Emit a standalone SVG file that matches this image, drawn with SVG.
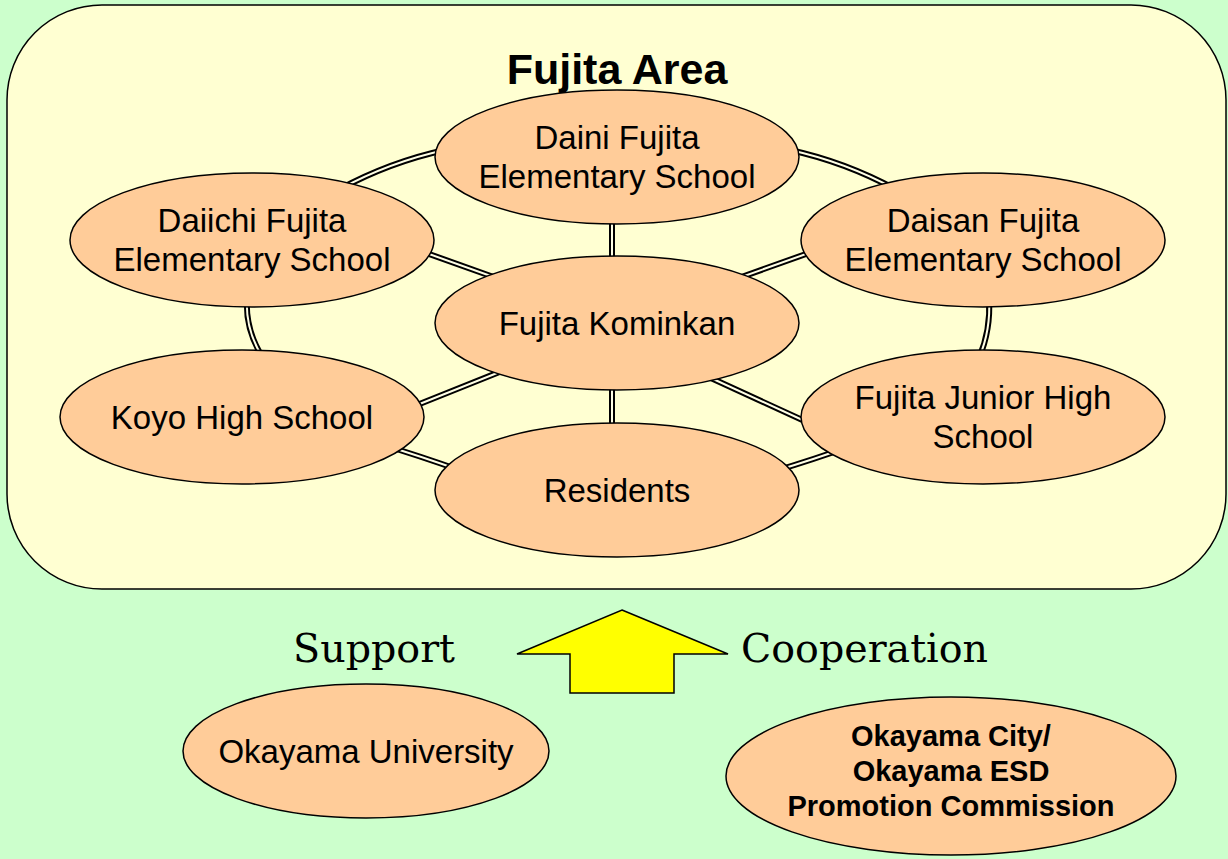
<svg xmlns="http://www.w3.org/2000/svg" width="1228" height="859" viewBox="0 0 1228 859">
<defs>
<style>
.node{fill:#FFCC99;stroke:#000;stroke-width:1.5}
.t{font-family:"Liberation Sans",Arial,sans-serif;font-size:33px;fill:#000;text-anchor:middle}
.tb{font-family:"Liberation Sans",Arial,sans-serif;font-size:29px;font-weight:bold;fill:#000;text-anchor:middle}
.serif{font-family:"DejaVu Serif","Liberation Serif",serif;font-size:39px;fill:#000}
.outer{fill:none;stroke:#000;stroke-width:6}
.inner{fill:none;stroke:#FFFFE6;stroke-width:2}
</style>
</defs>
<rect x="0" y="0" width="1228" height="859" fill="#CCFFCC"/>
<g id="area">
<rect x="7" y="5" width="1219" height="584" rx="95" ry="95" fill="#FFFFD2" stroke="#000" stroke-width="1.5"/>
<text x="617" y="84" font-family="Liberation Sans,Arial,sans-serif" font-size="43" font-weight="bold" text-anchor="middle">Fujita Area</text>
</g>
<g id="connectors">
<g class="outer">
<path id="c1" d="M340 189 Q390 162 445 150"/>
<path id="c2" d="M895 189 Q845 162 790 150"/>
<path id="c3" d="M247 298 Q245 330 263 358"/>
<path id="c4" d="M989 298 Q991 330 979 358"/>
<path id="c5" d="M380 444 Q420 456 462 471"/>
<path id="c6" d="M775 471 Q815 459 848 447"/>
<path id="c7" d="M415 249 L502 280"/>
<path id="c8" d="M820 249 L733 280"/>
<path id="c9" d="M412 407 L512 367"/>
<path id="c10" d="M700 373 L822 429"/>
<path id="c11" d="M612 215 L612 265"/>
<path id="c12" d="M612 382 L612 432"/>
</g>
<g class="inner">
<path d="M340 189 Q390 162 445 150"/>
<path d="M895 189 Q845 162 790 150"/>
<path d="M247 298 Q245 330 263 358"/>
<path d="M989 298 Q991 330 979 358"/>
<path d="M380 444 Q420 456 462 471"/>
<path d="M775 471 Q815 459 848 447"/>
<path d="M415 249 L502 280"/>
<path d="M820 249 L733 280"/>
<path d="M412 407 L512 367"/>
<path d="M700 373 L822 429"/>
<path d="M612 215 L612 265"/>
<path d="M612 382 L612 432"/>
</g>
</g>
<g id="daini">
<ellipse class="node" cx="617" cy="157" rx="182" ry="67"/>
<text class="t" x="617" y="149">Daini Fujita</text>
<text class="t" x="617" y="188">Elementary School</text>
</g>
<g id="daiichi">
<ellipse class="node" cx="252" cy="240" rx="182" ry="67"/>
<text class="t" x="252" y="232">Daiichi Fujita</text>
<text class="t" x="252" y="271">Elementary School</text>
</g>
<g id="daisan">
<ellipse class="node" cx="983" cy="240" rx="182" ry="67"/>
<text class="t" x="983" y="232">Daisan Fujita</text>
<text class="t" x="983" y="271">Elementary School</text>
</g>
<g id="kominkan">
<ellipse class="node" cx="617" cy="323" rx="182" ry="67"/>
<text class="t" x="617" y="335">Fujita Kominkan</text>
</g>
<g id="koyo">
<ellipse class="node" cx="242" cy="417" rx="182" ry="67"/>
<text class="t" x="242" y="429">Koyo High School</text>
</g>
<g id="junior">
<ellipse class="node" cx="983" cy="417" rx="182" ry="67"/>
<text class="t" x="983" y="409">Fujita Junior High</text>
<text class="t" x="983" y="448">School</text>
</g>
<g id="residents">
<ellipse class="node" cx="617" cy="490" rx="182" ry="67"/>
<text class="t" x="617" y="502">Residents</text>
</g>
<g id="arrow">
<polygon points="622,610 728,654 674,654 674,693 570,693 570,654 517,654" fill="#FFFF00" stroke="#000" stroke-width="1.5"/>
</g>
<g id="support">
<text class="serif" x="293" y="662" textLength="162" lengthAdjust="spacingAndGlyphs">Support</text>
</g>
<g id="cooperation">
<text class="serif" x="741" y="662" textLength="247" lengthAdjust="spacingAndGlyphs">Cooperation</text>
</g>
<g id="university">
<ellipse class="node" cx="366" cy="751" rx="183" ry="67"/>
<text class="t" x="366" y="763">Okayama University</text>
</g>
<g id="city">
<ellipse class="node" cx="951" cy="776" rx="225" ry="79"/>
<text class="tb" x="951" y="746">Okayama City/</text>
<text class="tb" x="951" y="781">Okayama ESD</text>
<text class="tb" x="951" y="816">Promotion Commission</text>
</g>
</svg>
